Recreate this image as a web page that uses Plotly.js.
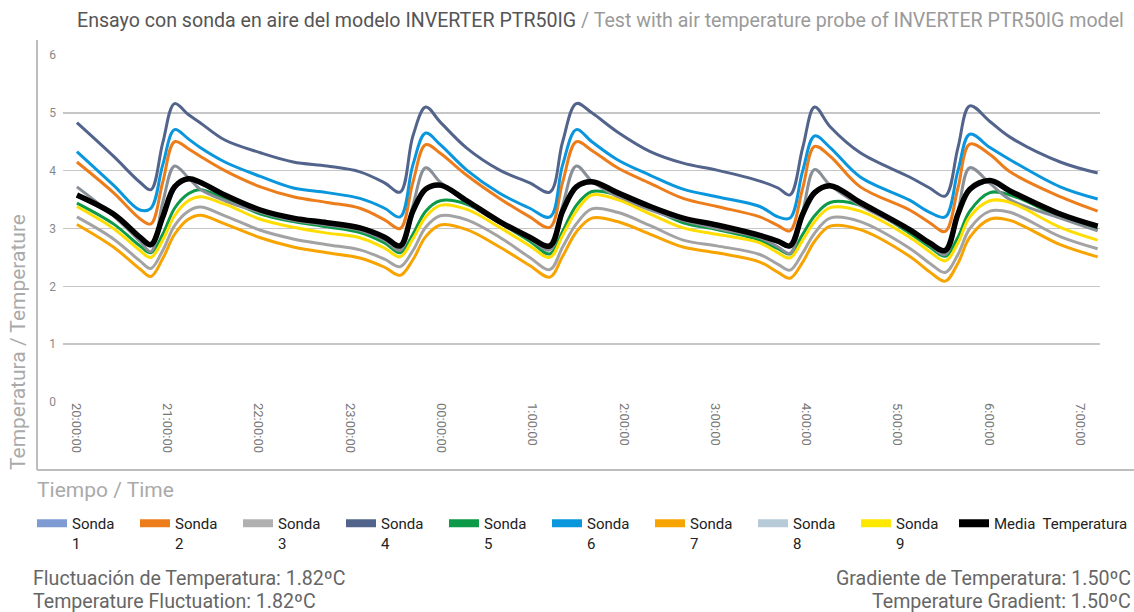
<!DOCTYPE html>
<html>
<head>
<meta charset="utf-8">
<script src="https://cdn.plot.ly/plotly-3.0.1.min.js"></script>
<style>html,body{margin:0;padding:0;background:#fff;}#chart{width:1134px;height:612px;}</style>
</head>
<body>
<div id="chart"></div>
<script>
// Time in hours after 20:00:00
const time = [0.01,0.41,0.70,0.82,0.95,1.08,1.23,1.36,1.63,2.02,2.38,2.75,3.11,3.38,3.55,3.69,3.83,3.99,4.28,4.64,4.97,5.19,5.33,5.48,5.65,5.93,6.29,6.65,7.02,7.49,7.69,7.82,7.96,8.09,8.26,8.59,9.13,9.35,9.52,9.66,9.79,10.01,10.23,10.78,11.19];
const tickLabels = ["20:00:00","21:00:00","22:00:00","23:00:00","00:00:00","1:00:00","2:00:00","3:00:00","4:00:00","5:00:00","6:00:00","7:00:00"];

const sonda1 = [3.56,3.23,2.83,2.70,3.28,3.70,3.84,3.78,3.56,3.30,3.16,3.08,2.99,2.83,2.68,3.28,3.66,3.73,3.46,3.10,2.83,2.68,3.28,3.70,3.79,3.60,3.36,3.16,3.04,2.86,2.76,2.68,3.23,3.60,3.72,3.43,2.96,2.73,2.60,3.23,3.66,3.81,3.63,3.23,3.02];
const sonda2 = [4.15,3.62,3.17,3.08,3.80,4.50,4.38,4.25,4.00,3.72,3.55,3.45,3.35,3.15,3.00,3.80,4.45,4.30,3.92,3.52,3.20,3.02,3.80,4.50,4.35,4.05,3.78,3.52,3.38,3.20,3.05,2.96,3.70,4.42,4.25,3.72,3.32,3.10,2.95,3.70,4.46,4.28,3.98,3.55,3.30];
const sonda3 = [3.20,2.82,2.44,2.31,2.62,3.05,3.30,3.37,3.22,2.97,2.82,2.72,2.63,2.47,2.34,2.62,3.02,3.22,3.15,2.85,2.50,2.29,2.68,3.08,3.34,3.28,3.05,2.80,2.70,2.55,2.38,2.28,2.58,2.92,3.18,3.12,2.66,2.40,2.24,2.55,3.00,3.30,3.28,2.86,2.65];
const sonda4 = [4.83,4.25,3.80,3.67,4.48,5.16,4.97,4.83,4.53,4.31,4.15,4.08,3.98,3.79,3.63,4.60,5.10,4.84,4.39,4.01,3.79,3.63,4.50,5.16,5.00,4.67,4.33,4.13,4.01,3.82,3.70,3.58,4.40,5.10,4.76,4.31,3.89,3.70,3.56,4.40,5.12,4.85,4.58,4.15,3.96];
const sonda5 = [3.44,3.08,2.70,2.58,2.90,3.35,3.60,3.67,3.52,3.25,3.12,3.03,2.93,2.75,2.58,2.90,3.30,3.48,3.42,3.10,2.78,2.56,2.95,3.40,3.64,3.58,3.35,3.10,2.98,2.80,2.65,2.56,2.90,3.22,3.45,3.40,2.92,2.68,2.52,2.85,3.30,3.62,3.58,3.20,2.98];
const sonda6 = [4.33,3.75,3.32,3.35,4.10,4.71,4.55,4.40,4.15,3.90,3.70,3.62,3.52,3.35,3.20,4.10,4.65,4.45,4.01,3.61,3.35,3.20,4.10,4.71,4.50,4.19,3.92,3.68,3.55,3.38,3.20,3.18,4.00,4.60,4.40,3.89,3.49,3.28,3.20,4.00,4.63,4.40,4.19,3.72,3.51];
const sonda7 = [3.07,2.68,2.30,2.17,2.48,2.90,3.16,3.23,3.08,2.84,2.68,2.58,2.49,2.33,2.19,2.46,2.86,3.06,2.98,2.68,2.36,2.16,2.52,2.94,3.18,3.12,2.90,2.68,2.58,2.42,2.24,2.14,2.42,2.78,3.04,2.98,2.52,2.25,2.09,2.40,2.85,3.16,3.14,2.72,2.51];
const sonda8 = [3.72,3.22,2.78,2.60,3.45,4.08,3.88,3.68,3.48,3.28,3.14,3.06,2.97,2.80,2.62,3.40,4.05,3.80,3.45,3.10,2.82,2.63,3.40,4.08,3.82,3.55,3.32,3.14,3.00,2.84,2.68,2.57,3.30,4.02,3.75,3.40,2.96,2.72,2.55,3.30,4.05,3.78,3.50,3.18,2.96];
const sonda9 = [3.38,3.00,2.62,2.50,2.80,3.22,3.48,3.55,3.42,3.16,3.02,2.92,2.84,2.66,2.51,2.82,3.20,3.40,3.33,3.02,2.70,2.50,2.88,3.30,3.58,3.50,3.25,3.01,2.90,2.75,2.58,2.49,2.80,3.12,3.36,3.30,2.85,2.60,2.44,2.75,3.20,3.48,3.45,3.02,2.80];
const media  = [3.58,3.25,2.85,2.72,3.20,3.72,3.86,3.80,3.58,3.32,3.18,3.10,3.01,2.85,2.70,3.30,3.68,3.75,3.48,3.12,2.85,2.70,3.30,3.72,3.81,3.62,3.38,3.18,3.06,2.88,2.78,2.70,3.25,3.62,3.74,3.45,2.98,2.75,2.62,3.25,3.68,3.83,3.65,3.25,3.04];

const seriesNames = ["Sonda<br>1","Sonda<br>2","Sonda<br>3","Sonda<br>4","Sonda<br>5","Sonda<br>6","Sonda<br>7","Sonda<br>8","Sonda<br>9","Media  Temperatura"];
const seriesData = [sonda1,sonda2,sonda3,sonda4,sonda5,sonda6,sonda7,sonda8,sonda9,media];
const lineColors = ["#7f9bd4","#ed7d1a","#a3a3a3","#53648c","#0d9a48","#0a96dc","#f7a400","#888f97","#ffdd00","#000000"];
const legendColors = ["#7f9bd4","#ed7d1a","#b0b0b0","#53648c","#0d9a48","#0a96dc","#f7a400","#b7cad8","#ffe800","#000000"];
const lineWidths = [3,3,3,3,3,3,3,3,3,5.5];

const traces = [];
seriesData.forEach((vals, i) => {
  traces.push({
    type: 'scatter', mode: 'lines', x: time, y: vals,
    line: {color: lineColors[i], width: lineWidths[i], shape: 'spline', smoothing: 1.0},
    name: seriesNames[i], legendgroup: 'g' + i, showlegend: false, hoverinfo: 'skip'
  });
});
seriesData.forEach((vals, i) => {
  traces.push({
    type: 'scatter', mode: 'lines', x: [null], y: [null],
    line: {color: legendColors[i], width: 8},
    name: seriesNames[i], legendgroup: 'g' + i, showlegend: true,
    legend: i === seriesData.length - 1 ? 'legend2' : 'legend'
  });
});

const L = 63, R = 34, T = 55, B = 210;
const W = 1134, H = 612;
const pw = W - L - R, ph = H - T - B;
const px = v => (v - L) / pw;
const py = v => (H - B - v) / ph;

const grey = '#aaaaaa';
const legendBase = {
  orientation: 'h', xref: 'container', yref: 'container', y: 1 - 507 / H,
  xanchor: 'left', yanchor: 'top', valign: 'top', itemwidth: 30,
  font: {size: 15, color: '#222'}, bgcolor: 'rgba(0,0,0,0)', traceorder: 'normal'
};
const layout = {
  width: W, height: H,
  margin: {l: L, r: R, t: T, b: B, pad: 0},
  paper_bgcolor: '#ffffff', plot_bgcolor: '#ffffff',
  font: {family: 'Roboto, "Liberation Sans", sans-serif', color: '#555'},
  title: {
    text: 'Ensayo con sonda en aire del modelo INVERTER PTR50IG <span style="color:#9a9a9a">/ Test with air temperature probe of INVERTER PTR50IG model</span>',
    font: {size: 19.6, color: '#555'},
    xref: 'container', yref: 'container', x: 77 / W, xanchor: 'left', y: 1 - 20 / H, yanchor: 'middle'
  },
  xaxis: {
    range: [(L - 76) / 91.3, (W - R - 76) / 91.3],
    tickmode: 'array', tickvals: tickLabels.map((t, i) => i), ticktext: tickLabels,
    tickangle: 90, tickfont: {size: 13, color: '#777'},
    showgrid: false, zeroline: false, showline: false, ticks: '', fixedrange: true
  },
  yaxis: {
    range: [0, 6], dtick: 1, tickfont: {size: 12, color: '#888'},
    showgrid: true, gridcolor: '#c6c6c6', gridwidth: 1.5, zeroline: false, showline: false, ticks: '', ticklabelstandoff: 6
  },
  showlegend: true,
  legend: Object.assign({}, legendBase, {x: 32 / W, entrywidth: 58}),
  legend2: Object.assign({}, legendBase, {x: 954 / W}),
  shapes: [
    {type: 'line', xref: 'paper', yref: 'paper', x0: px(37), x1: px(37), y0: py(40), y1: py(470), line: {color: '#bdbdbd', width: 2}},
    {type: 'line', xref: 'paper', yref: 'paper', x0: px(37), x1: px(1134), y0: py(470), y1: py(470), line: {color: '#bdbdbd', width: 2}}
  ],
  annotations: [
    {xref: 'paper', yref: 'paper', x: px(18), y: py(342), text: 'Temperatura / Temperature', textangle: -90, showarrow: false, font: {size: 21, color: grey}, xanchor: 'center', yanchor: 'middle'},
    {xref: 'paper', yref: 'paper', x: px(35), y: py(490), text: 'Tiempo / Time', showarrow: false, font: {size: 21, color: grey}, xanchor: 'left', yanchor: 'middle'},
    {xref: 'paper', yref: 'paper', x: px(31), y: py(578), text: 'Fluctuación de Temperatura: 1.82ºC', showarrow: false, font: {size: 19.6, color: '#666'}, xanchor: 'left', yanchor: 'middle'},
    {xref: 'paper', yref: 'paper', x: px(31), y: py(601), text: 'Temperature Fluctuation: 1.82ºC', showarrow: false, font: {size: 19.6, color: '#666'}, xanchor: 'left', yanchor: 'middle'},
    {xref: 'paper', yref: 'paper', x: px(1133), y: py(578), text: 'Gradiente de Temperatura: 1.50ºC', showarrow: false, font: {size: 19.6, color: '#666'}, xanchor: 'right', yanchor: 'middle'},
    {xref: 'paper', yref: 'paper', x: px(1133), y: py(601), text: 'Temperature Gradient: 1.50ºC', showarrow: false, font: {size: 19.6, color: '#666'}, xanchor: 'right', yanchor: 'middle'}
  ]
};

Plotly.newPlot('chart', traces, layout, {displayModeBar: false, staticPlot: true});
</script>
</body>
</html>
